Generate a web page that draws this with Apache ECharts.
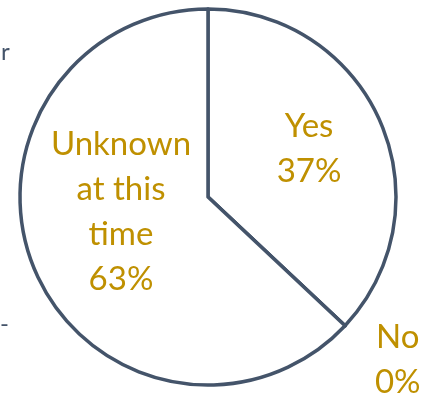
<!DOCTYPE html>
<html>
<head>
<meta charset="utf-8">
<script src="https://cdn.jsdelivr.net/npm/echarts@6/dist/echarts.min.js"></script>
<style>
  html, body { margin: 0; padding: 0; background: #fff; }
  #chart { width: 426px; height: 396px; }
</style>
</head>
<body>
<div id="chart"></div>
<script>
const categories = ['Yes', 'No', 'Unknown\nat this\ntime']
const values = [37, 0, 63]

const labelOffsets = [[12, -10], [119, 96], [2, -24]]

const chart = echarts.init(document.getElementById('chart'))

chart.setOption({
  animation: false,
  graphic: [
    { type: 'text', left: 1, top: 40, style: { text: 'r', fontSize: 24, fontFamily: 'Lato', fill: '#44546A' } },
    { type: 'text', left: 0, top: 312, style: { text: '-', fontSize: 24, fontFamily: 'Lato', fill: '#44546A' } }
  ],
  series: [{
    type: 'pie',
    center: [208, 197],
    radius: [0, 188],
    startAngle: 90,
    clockwise: true,
    avoidLabelOverlap: false,
    silent: true,
    itemStyle: {
      color: '#ffffff',
      borderColor: '#44546A',
      borderWidth: 3.5
    },
    label: {
      position: 'inside',
      color: '#BF9000',
      fontFamily: 'Lato',
      fontSize: 33,
      lineHeight: 45,
      align: 'center',
      formatter: p => p.name + '\n' + p.value + '%'
    },
    labelLine: { show: false },
    data: categories.map((name, i) => ({
      name: name,
      value: values[i],
      label: { offset: labelOffsets[i] }
    }))
  }]
})
</script>
</body>
</html>
